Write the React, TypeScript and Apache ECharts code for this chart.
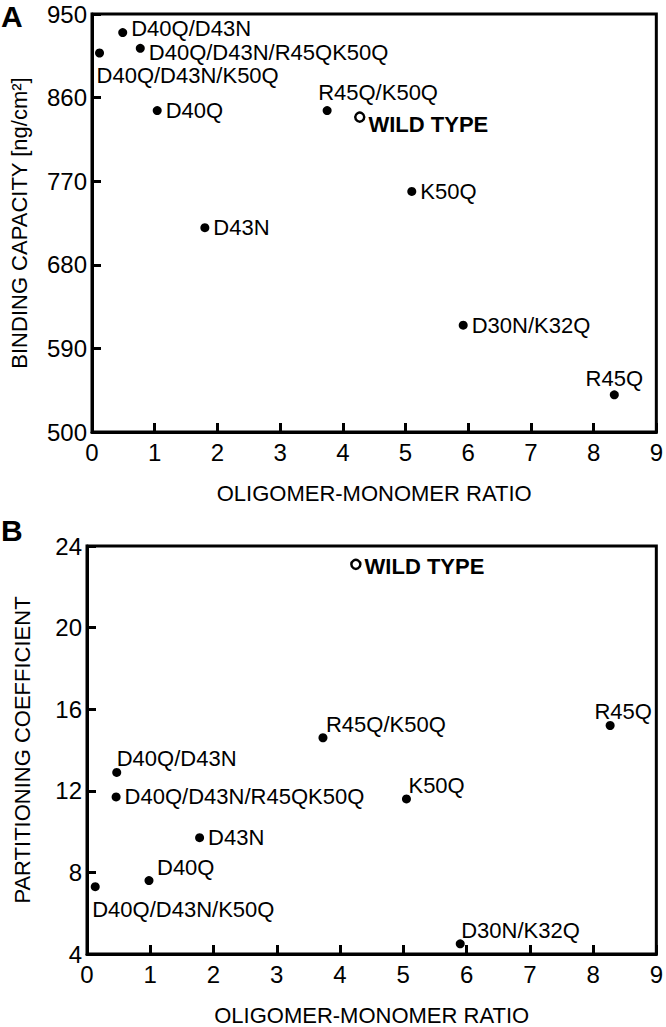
import React, { useEffect, useRef } from "react";
import * as echarts from "echarts";

const xTicks = [0, 1, 2, 3, 4, 5, 6, 7, 8, 9];

const namesA = ["D40Q/D43N", "D40Q/D43N/R45QK50Q", "D40Q/D43N/K50Q", "D40Q", "R45Q/K50Q", "K50Q", "D43N", "D30N/K32Q", "R45Q"];
const ratioA = [0.49, 0.77, 0.12, 1.04, 3.75, 5.1, 1.8, 5.92, 8.33];
const capacityA = [930, 913, 908, 846, 846, 759, 720, 615, 540];
const wildRatioA = 4.27;
const wildCapacityA = 839;

const namesB = ["D40Q/D43N", "D40Q/D43N/R45QK50Q", "D40Q/D43N/K50Q", "D40Q", "R45Q/K50Q", "K50Q", "D43N", "D30N/K32Q", "R45Q"];
const ratioB = [0.47, 0.46, 0.13, 0.98, 3.73, 5.05, 1.78, 5.9, 8.27];
const coeffB = [12.9, 11.7, 7.3, 7.6, 14.6, 11.6, 9.7, 4.5, 15.2];
const wildRatioB = 4.25;
const wildCoeffB = 23.1;

const FONT = "'Liberation Sans', Arial, sans-serif";

// label placement (style only)
const placeA: Record<string, any> = {
  "D40Q/D43N": { position: "right", offset: [0, -4] },
  "D40Q/D43N/R45QK50Q": { position: "right", offset: [0, 4] },
  "D40Q/D43N/K50Q": { position: "bottom", align: "left", offset: [-3, 4] },
  "D40Q": { position: "right" },
  "R45Q/K50Q": { position: "top", align: "left", offset: [-9, 0] },
  "K50Q": { position: "right" },
  "D43N": { position: "right" },
  "D30N/K32Q": { position: "right" },
  "R45Q": { position: "top", offset: [0, 2] },
};
const placeB: Record<string, any> = {
  "D40Q/D43N": { position: "top", align: "left", offset: [0, 5] },
  "D40Q/D43N/R45QK50Q": { position: "right" },
  "D40Q/D43N/K50Q": { position: "bottom", align: "left", offset: [-3, 4] },
  "D40Q": { position: "top", align: "left", offset: [8, 5] },
  "R45Q/K50Q": { position: "top", align: "left", offset: [3, 5] },
  "K50Q": { position: "top", align: "left", offset: [2, 5] },
  "D43N": { position: "right" },
  "D30N/K32Q": { position: "top", align: "left", offset: [1, 5] },
  "R45Q": { position: "top", offset: [13, 4] },
};

function buildData(names: string[], xs: number[], ys: number[], place: Record<string, any>) {
  return names.map((n, i) => ({
    name: n,
    value: [xs[i], ys[i]],
    label: { show: true, distance: 4, ...place[n] },
  }));
}

export default function App() {
  const ref = useRef<HTMLDivElement>(null);
  useEffect(() => {
    if (!ref.current) return;
    const chart = echarts.init(ref.current, null, { renderer: "svg" });
    const axisLine = { show: true, onZero: false, lineStyle: { color: "#000", width: 3 } };
    const axisTick = { show: true, inside: true, length: 9, lineStyle: { color: "#000", width: 3 } };
    const tickLabel = { color: "#000", fontSize: 24, fontFamily: FONT };
    const nameStyle = { color: "#000", fontSize: 22, fontFamily: FONT };
    const labelCommon = {
      formatter: "{b}",
      color: "#000",
      fontSize: 22,
      lineHeight: 20,
      fontFamily: FONT,
    };
    const xAxisCfg = (gi: number) => ({
      type: "value",
      gridIndex: gi,
      min: 0,
      max: 9,
      interval: 1,
      name: "OLIGOMER-MONOMER RATIO",
      nameLocation: "middle",
      nameGap: 50,
      nameTextStyle: nameStyle,
      axisLine,
      axisTick,
      axisLabel: { ...tickLabel, margin: 8 },
      splitLine: { show: false },
    });
    chart.setOption({
      animation: false,
      backgroundColor: "#fff",
      grid: [
        { left: 87, top: 14, width: 571, height: 418, show: true, borderColor: "#000", borderWidth: 3 },
        { left: 87, top: 546, width: 571, height: 417, show: true, borderColor: "#000", borderWidth: 3 },
      ],
      xAxis: [xAxisCfg(0), xAxisCfg(1)],
      yAxis: [
        {
          type: "value",
          gridIndex: 0,
          min: 500,
          max: 950,
          interval: 90,
          name: "BINDING CAPACITY [ng/cm²]",
          nameLocation: "middle",
          nameGap: 62,
          nameTextStyle: nameStyle,
          axisLine,
          axisTick,
          axisLabel: { ...tickLabel, margin: 5 },
          splitLine: { show: false },
        },
        {
          type: "value",
          gridIndex: 1,
          min: 4,
          max: 24,
          interval: 4,
          name: "PARTITIONING COEFFICIENT",
          nameLocation: "middle",
          nameGap: 54,
          nameTextStyle: nameStyle,
          axisLine,
          axisTick,
          axisLabel: { ...tickLabel, margin: 5 },
          splitLine: { show: false },
        },
      ],
      graphic: [
        { type: "text", left: 1, top: 1, style: { text: "A", fontSize: 30, fontWeight: "bold", fontFamily: FONT, fill: "#000" } },
        { type: "text", left: 1, top: 515, style: { text: "B", fontSize: 30, fontWeight: "bold", fontFamily: FONT, fill: "#000" } },
      ],
      series: [
        {
          type: "scatter",
          xAxisIndex: 0,
          yAxisIndex: 0,
          symbolSize: 9,
          itemStyle: { color: "#000", opacity: 1 },
          label: labelCommon,
          data: buildData(namesA, ratioA, capacityA, placeA),
        },
        {
          type: "scatter",
          xAxisIndex: 0,
          yAxisIndex: 0,
          symbolSize: 9,
          itemStyle: { color: "#fff", borderColor: "#000", borderWidth: 2.5, opacity: 1 },
          label: { ...labelCommon, show: true, position: "right", fontWeight: "bold", distance: 3, offset: [0, 7] },
          data: [{ name: "WILD TYPE", value: [wildRatioA, wildCapacityA] }],
        },
        {
          type: "scatter",
          xAxisIndex: 1,
          yAxisIndex: 1,
          symbolSize: 9,
          itemStyle: { color: "#000", opacity: 1 },
          label: labelCommon,
          data: buildData(namesB, ratioB, coeffB, placeB),
        },
        {
          type: "scatter",
          xAxisIndex: 1,
          yAxisIndex: 1,
          symbolSize: 9,
          itemStyle: { color: "#fff", borderColor: "#000", borderWidth: 2.5, opacity: 1 },
          label: { ...labelCommon, show: true, position: "right", fontWeight: "bold", distance: 3, offset: [0, 2] },
          data: [{ name: "WILD TYPE", value: [wildRatioB, wildCoeffB] }],
        },
      ],
    });
    return () => chart.dispose();
  }, []);
  return <div ref={ref} style={{ position: "absolute", left: 0, top: 0, width: 666, height: 1027 }} />;
}
